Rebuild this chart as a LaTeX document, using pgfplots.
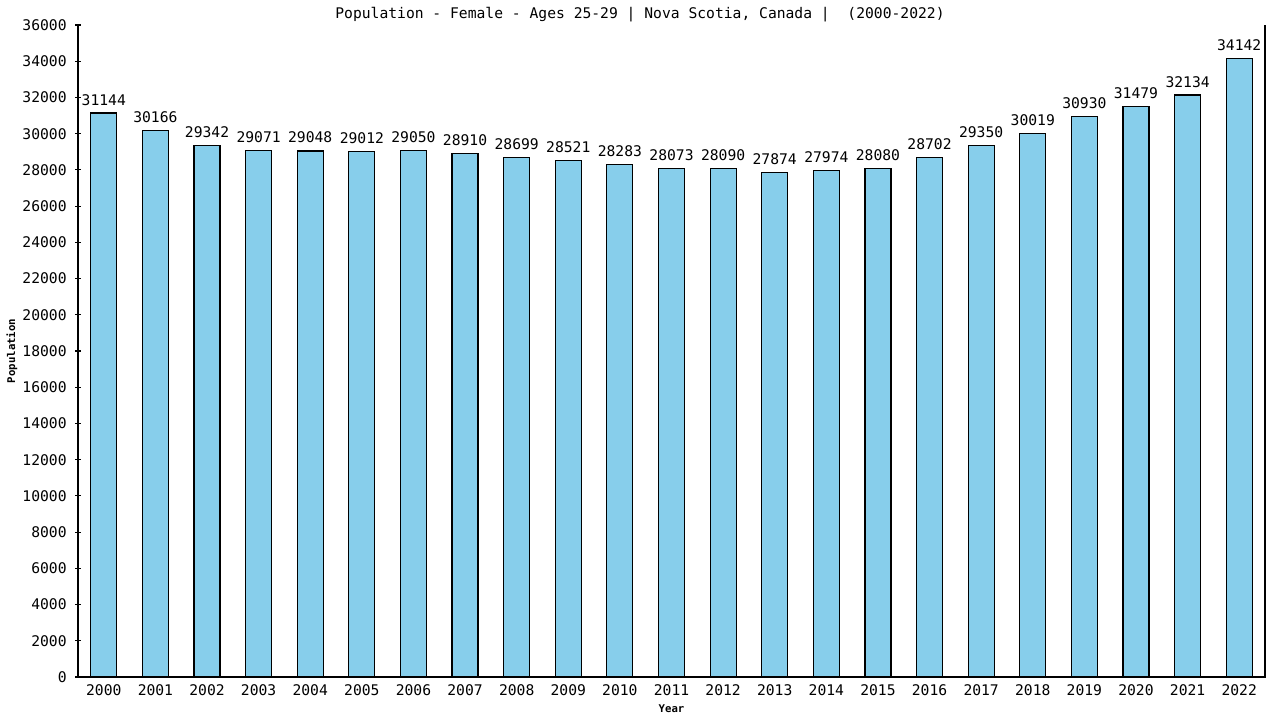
\documentclass[border=0pt]{standalone}
\usepackage{pgfplots}
\pgfplotsset{compat=1.18}
\usepackage{fontspec}
\setmainfont{DejaVu Sans Mono}
\setmonofont{DejaVu Sans Mono}

\definecolor{barfill}{RGB}{135,206,235}

\begin{document}
\begin{tikzpicture}
% frame of the whole picture (1280x720 px at 0.75pt per px), axis box lower left at origin
\path[use as bounding box] (-58.5pt,-32.25pt) rectangle (901.5pt,507.75pt);
\begin{axis}[
    scale only axis,
    width=890.25pt, height=489pt,
    ybar, bar width=19.5pt,
    xmin=-0.5, xmax=22.5,
    ymin=0, ymax=36000,
    enlarge x limits=false,
    xtick={0,...,22},
    xticklabels={2000,2001,2002,2003,2004,2005,2006,2007,2008,2009,2010,2011,2012,2013,2014,2015,2016,2017,2018,2019,2020,2021,2022},
    ytick distance=2000,
    scaled y ticks=false,
    /pgf/number format/1000 sep={},
    /pgf/number format/assume math mode=true,
    tick label style={font=\fontsize{11}{13}\selectfont, text=black},
    xtick style={draw=none},
    ytick pos=left,
    tick align=center,
    major tick length=4pt,
    ytick style={black, line width=0.8pt},
    axis line style={draw=none},
    xticklabel style={yshift=-0.5pt},
    yticklabel style={xshift=-3pt},
    xlabel={Year},
    ylabel={Population},
    every axis x label/.style={at={(axis description cs:0.5,0)}, anchor=center, yshift=-24pt, font=\bfseries\fontsize{8}{9}\selectfont},
    every axis y label/.style={at={(axis description cs:0,0.5)}, rotate=90, anchor=center, yshift=49.5pt, font=\bfseries\fontsize{8}{9}\selectfont},
    nodes near coords,
    every node near coord/.append style={font=\fontsize{11}{13}\selectfont, text=black, anchor=south, yshift=2pt},
    clip=false,
]
\addplot[fill=barfill, draw=black, line width=0.9pt] coordinates {
    (0,31144) (1,30166) (2,29342) (3,29071) (4,29048) (5,29012)
    (6,29050) (7,28910) (8,28699) (9,28521) (10,28283) (11,28073)
    (12,28090) (13,27874) (14,27974) (15,28080) (16,28702) (17,29350)
    (18,30019) (19,30930) (20,31479) (21,32134) (22,34142)
};
\draw[black, line width=0.9pt] (rel axis cs:0,1) -- (rel axis cs:0,0) -- (rel axis cs:1,0) -- (rel axis cs:1,1);
\end{axis}
\node[font=\fontsize{11}{13}\selectfont, anchor=center] at (421.5pt,496.5pt) {Population - Female - Ages 25-29 | Nova Scotia, Canada |~ (2000-2022)};
\end{tikzpicture}
\end{document}
